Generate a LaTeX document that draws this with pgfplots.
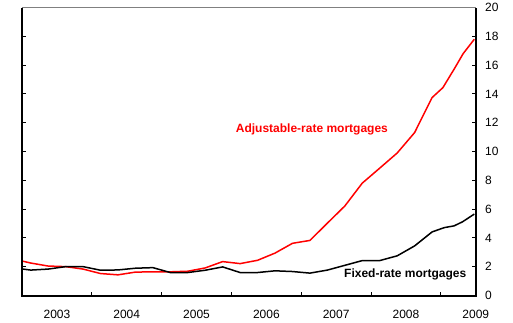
\documentclass[border=0pt]{standalone}
\usepackage{fontspec}
\setmainfont{Liberation Sans}
\usepackage{pgfplots}
\pgfplotsset{compat=1.18}
\begin{document}
\begin{tikzpicture}
\begin{axis}[
  scale only axis, width=453.7pt, height=288pt,
  xmin=2003, xmax=2009.5, ymin=0, ymax=20,
  axis line style={draw=none},
  xtick={2003,2004,2005,2006,2007,2008,2009},
  xticklabels={2003,2004,2005,2006,2007,2008,2009},
  xticklabel style={xshift=34.95pt, yshift=-11.2pt},
  xtick pos=bottom,
  ytick={0,2,...,20},
  yticklabel pos=right,
  ytick pos=both,
  yticklabel style={anchor=west, xshift=6pt},
  tick align=inside,
  major tick length=4pt,
  tick style={black, line width=1pt},
  minor tick num=0,
  ticklabel style={font=\fontsize{12}{14}\selectfont},
  /pgf/number format/assume math mode=true,
  clip=false,
]
\addplot[red, line width=1.5pt] coordinates {
(2003.000,2.40) (2003.125,2.26) (2003.375,2.05) (2003.625,2.01) (2003.875,1.84)
(2004.125,1.53) (2004.375,1.44) (2004.625,1.63) (2004.875,1.65)
(2005.125,1.65) (2005.375,1.69) (2005.625,1.92) (2005.875,2.36)
(2006.125,2.22) (2006.375,2.45) (2006.625,2.95) (2006.875,3.63)
(2007.125,3.83) (2007.375,5.03) (2007.625,6.22) (2007.875,7.81)
(2008.125,8.85) (2008.375,9.90) (2008.625,11.32) (2008.875,13.75)
(2009.03,14.44) (2009.195,15.76) (2009.32,16.80) (2009.48,17.80)
};
\addplot[black, line width=1.5pt] coordinates {
(2003.000,1.85) (2003.125,1.77) (2003.375,1.84) (2003.625,2.01) (2003.875,2.01)
(2004.125,1.76) (2004.375,1.78) (2004.625,1.90) (2004.875,1.94)
(2005.125,1.60) (2005.375,1.60) (2005.625,1.76) (2005.875,1.99)
(2006.125,1.60) (2006.375,1.60) (2006.625,1.72) (2006.875,1.67)
(2007.125,1.56) (2007.375,1.77) (2007.625,2.10) (2007.875,2.43)
(2008.125,2.43) (2008.375,2.76) (2008.625,3.45) (2008.875,4.42)
(2009.05,4.72) (2009.19,4.84) (2009.31,5.12) (2009.48,5.66)
};
\draw[gray, line width=0.8pt] (rel axis cs:0,1) -- (rel axis cs:1,1);
\draw[black, line width=2pt] (rel axis cs:0,1) -- (rel axis cs:0,0) -- (rel axis cs:1,0) -- (rel axis cs:1,1);
\node[text=red, font=\bfseries\fontsize{12}{14}\selectfont] at (axis cs:2007.153,11.53) {Adjustable-rate mortgages};
\node[text=black, font=\bfseries\fontsize{12}{14}\selectfont] at (axis cs:2008.49,1.48) {Fixed-rate mortgages};
\path (rel axis cs:0,0) ++(-22pt,-27pt);
\path (rel axis cs:1,1) ++(37.3pt,5pt);
\end{axis}
\end{tikzpicture}
\end{document}
